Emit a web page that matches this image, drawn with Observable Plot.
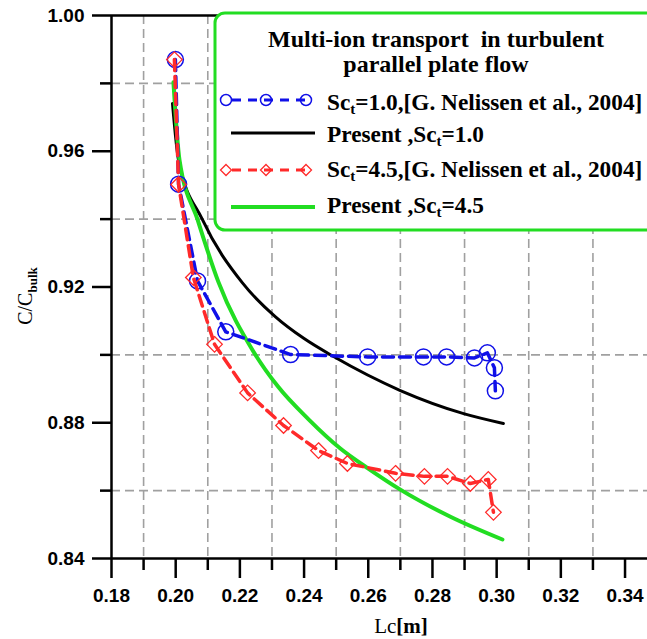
<!DOCTYPE html>
<html>
<head>
<meta charset="utf-8">
<script src="https://cdn.jsdelivr.net/npm/d3@7"></script>
<script src="https://cdn.jsdelivr.net/npm/@observablehq/plot@0.6"></script>
<style>
  html, body { margin: 0; padding: 0; background: #fff; }
  svg { display: block; }
</style>
</head>
<body>
<div id="chart"></div>
<script>
// ---- data ----
const xMajorTicks = [0.18, 0.20, 0.22, 0.24, 0.26, 0.28, 0.30, 0.32, 0.34];
const xMinorTicks = [0.19, 0.21, 0.23, 0.25, 0.27, 0.29, 0.31, 0.33];
const yMajorTicks = [0.84, 0.88, 0.92, 0.96, 1.00];
const yMinorTicks = [0.86, 0.90, 0.94, 0.98];

// Sc_t = 1.0, Nelissen et al. 2004 (blue circles)
const blueX = [0.1999, 0.2009, 0.2068, 0.2156, 0.2358, 0.2598, 0.2772, 0.2844, 0.2931, 0.2971, 0.2993, 0.2996];
const blueY = [0.9870, 0.9503, 0.9218, 0.9068, 0.9001, 0.8994, 0.8994, 0.8994, 0.8991, 0.9006, 0.8962, 0.8894];

// Sc_t = 4.5, Nelissen et al. 2004 (red diamonds)
const redX = [0.1996, 0.2009, 0.2055, 0.2121, 0.2224, 0.2336, 0.2445, 0.2535, 0.2685, 0.2775, 0.2847, 0.2918, 0.2974, 0.2990];
const redY = [0.9870, 0.9502, 0.9228, 0.9031, 0.8888, 0.8792, 0.8718, 0.8680, 0.8651, 0.8642, 0.8642, 0.8621, 0.8633, 0.8536];

// Present, Sc_t = 1.0 (black)
const blackX = [0.1990, 0.2009, 0.2083, 0.2208, 0.2311, 0.2400, 0.2492, 0.2700, 0.2897, 0.3021];
const blackY = [0.9741, 0.9573, 0.9399, 0.9212, 0.9112, 0.9048, 0.8995, 0.8895, 0.8827, 0.8798];

// Present, Sc_t = 4.5 (green)
const greenX = [0.1993, 0.2012, 0.2068, 0.2133, 0.2242, 0.2320, 0.2414, 0.2513, 0.2600, 0.2700, 0.2856, 0.3018];
const greenY = [0.9803, 0.9573, 0.9399, 0.9215, 0.9010, 0.8905, 0.8810, 0.8724, 0.8665, 0.8603, 0.8523, 0.8456];

const toRows = (xs, ys) => xs.map((x, i) => ({x, y: ys[i]}));
const blue = toRows(blueX, blueY);
const red = toRows(redX, redY);
const black = toRows(blackX, blackY);
const green = toRows(greenX, greenY);

const BLUE = "#1010e8", RED = "#ff2a2a", GREEN = "#22dd22", GRID = "#a0a0a0";
const tickFont = {fontFamily: "Liberation Sans, Arial, sans-serif", fontSize: 19, fontWeight: "bold"};

const plot = Plot.plot({
  width: 647,
  height: 639,
  marginLeft: 111,
  marginRight: 0,
  marginTop: 15,
  marginBottom: 81,
  style: {background: "#fff", color: "#000"},
  x: {domain: [0.18, 0.347]},
  y: {domain: [0.84, 1.00]},
  marks: [
    Plot.gridX(xMinorTicks, {stroke: GRID, strokeOpacity: 1, strokeWidth: 1.6, strokeDasharray: "9,5"}),
    Plot.gridY(yMinorTicks, {stroke: GRID, strokeOpacity: 1, strokeWidth: 1.6, strokeDasharray: "9,5"}),
    Plot.line(black, {x: "x", y: "y", stroke: "#000", strokeWidth: 3, curve: "monotone-x"}),
    Plot.line(green, {x: "x", y: "y", stroke: GREEN, strokeWidth: 4, curve: "monotone-x"}),
    Plot.line(blue, {x: "x", y: "y", stroke: BLUE, strokeWidth: 3.5, strokeDasharray: "11,6"}),
    Plot.dot(blue, {x: "x", y: "y", r: 8, stroke: BLUE, strokeWidth: 1.5, fill: "none"}),
    Plot.line(red, {x: "x", y: "y", stroke: RED, strokeWidth: 3.5, strokeDasharray: "11,6"}),
    Plot.dot(red, {x: "x", y: "y", r: 7, symbol: "diamond2", stroke: RED, strokeWidth: 1.3, fill: "none"}),
    // axes
    Plot.axisX(xMajorTicks, {anchor: "bottom", tickSize: 20, tickPadding: 10, strokeWidth: 2.5, tickFormat: d3.format(".2f"), label: null, ...tickFont}),
    Plot.axisX(xMinorTicks, {anchor: "bottom", tickSize: 12, strokeWidth: 2.5, tickFormat: () => "", label: null}),
    Plot.axisY(yMajorTicks, {anchor: "left", tickSize: 19, tickPadding: 8, strokeWidth: 2.5, tickFormat: d3.format(".2f"), label: null, ...tickFont}),
    Plot.axisY(yMinorTicks, {anchor: "left", tickSize: 11, strokeWidth: 2.5, tickFormat: () => "", label: null}),
    Plot.ruleY([0.84], {stroke: "#000", strokeWidth: 2.5}),
    Plot.ruleY([1.00], {stroke: "#000", strokeWidth: 2.5}),
    Plot.ruleX([0.18], {stroke: "#000", strokeWidth: 2.5})
  ]
});

document.getElementById("chart").appendChild(plot);

// ---- legend box, axis titles ----
const svg = d3.select(plot);
const serif = "Liberation Serif, Times New Roman, serif";

const lg = svg.append("g").attr("font-family", serif).attr("font-weight", "bold").attr("font-size", 23.3);
lg.append("rect").attr("x", 215).attr("y", 13).attr("width", 460).attr("height", 217)
  .attr("rx", 10).attr("fill", "#fff").attr("stroke", GREEN).attr("stroke-width", 3);
lg.append("text").attr("x", 436).attr("y", 47).attr("text-anchor", "middle").attr("font-size", 24)
  .style("white-space", "pre").text("Multi-ion transport  in turbulent");
lg.append("text").attr("x", 436).attr("y", 72).attr("text-anchor", "middle").attr("font-size", 24)
  .text("parallel plate flow");

const entries = [
  {y: 100, base: 110, pre: "Sc", post: "=1.0,[G. Nelissen et al., 2004]", kind: "blue"},
  {y: 133, base: 142, pre: "Present ,Sc", post: "=1.0", kind: "black"},
  {y: 170, base: 177, pre: "Sc", post: "=4.5,[G. Nelissen et al., 2004]", kind: "red"},
  {y: 207, base: 213, pre: "Present ,Sc", post: "=4.5", kind: "green"}
];
for (const e of entries) {
  if (e.kind === "blue" || e.kind === "red") {
    const c = e.kind === "blue" ? BLUE : RED;
    lg.append("line").attr("x1", 226).attr("x2", 306).attr("y1", e.y).attr("y2", e.y)
      .attr("stroke", c).attr("stroke-width", 3).attr("stroke-dasharray", "9,7").attr("stroke-dashoffset", -6);
    for (const cx of [226, 266, 306]) {
      if (e.kind === "blue") {
        lg.append("circle").attr("cx", cx).attr("cy", e.y).attr("r", 5.5).attr("fill", "none").attr("stroke", c).attr("stroke-width", 1.5);
      } else {
        lg.append("path").attr("d", `M${cx},${e.y - 5.5}L${cx + 5.5},${e.y}L${cx},${e.y + 5.5}L${cx - 5.5},${e.y}Z`)
          .attr("fill", "none").attr("stroke", c).attr("stroke-width", 1.3);
      }
    }
  } else {
    lg.append("line").attr("x1", 231).attr("x2", 315).attr("y1", e.y).attr("y2", e.y)
      .attr("stroke", e.kind === "black" ? "#000" : GREEN).attr("stroke-width", e.kind === "black" ? 3 : 4);
  }
  const t = lg.append("text").attr("x", 327).attr("y", e.base).attr("text-anchor", "start");
  t.append("tspan").text(e.pre);
  t.append("tspan").attr("dy", 4).attr("font-size", 15).text("t");
  t.append("tspan").attr("dy", -4).text(e.post);
}

// x axis title
const xt = svg.append("text").attr("x", 401).attr("y", 633).attr("text-anchor", "middle")
  .attr("font-family", serif).attr("font-size", 21);
xt.append("tspan").text("Lc");
xt.append("tspan").attr("font-weight", "bold").text("[m]");

// y axis title
const yt = svg.append("text").attr("transform", "translate(32,296) rotate(-90)").attr("text-anchor", "middle")
  .attr("font-family", serif).attr("font-size", 20);
yt.append("tspan").text("C/C");
yt.append("tspan").attr("dy", 5).attr("font-size", 13).attr("font-weight", "bold").text("bulk");
</script>
</body>
</html>
